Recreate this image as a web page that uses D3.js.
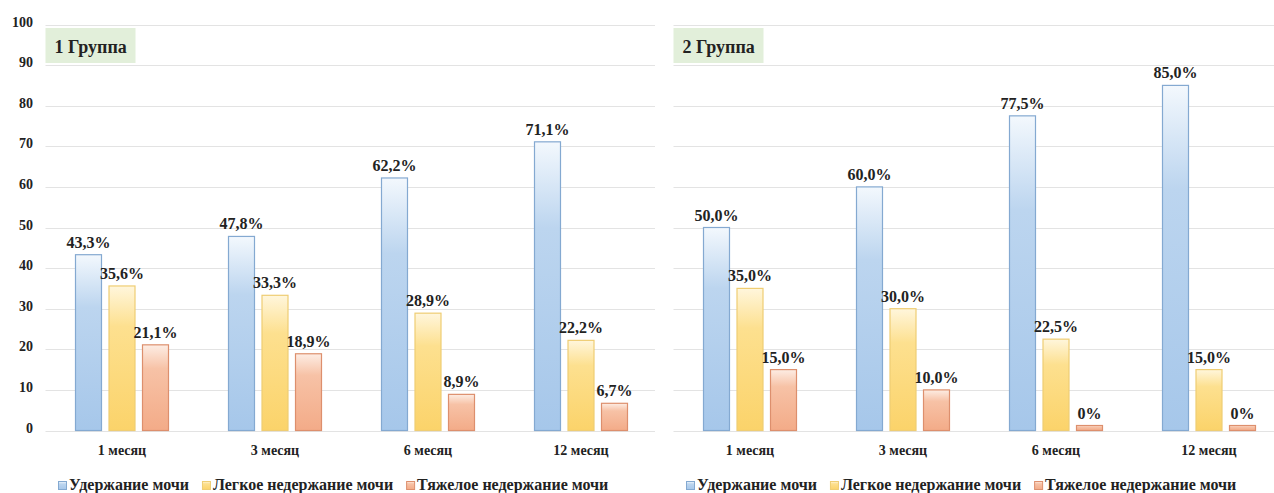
<!DOCTYPE html>
<html>
<head>
<meta charset="utf-8">
<script src="https://cdn.jsdelivr.net/npm/d3@7"></script>
<style>
  html, body { margin: 0; padding: 0; background: #ffffff; }
  svg { display: block; }
  text { font-family: "Liberation Serif", "Times New Roman", serif; font-weight: bold; fill: #222; }
</style>
</head>
<body>
<svg id="chart" width="1274" height="493"></svg>
<script>
// ---- data ----
const categories = ["1 месяц", "3 месяц", "6 месяц", "12 месяц"];
const seriesNames = ["Удержание мочи", "Легкое недержание мочи", "Тяжелое недержание мочи"];
const groupTitles = ["1 Группа", "2 Группа"];
const group1Retention = [43.3, 47.8, 62.2, 71.1];
const group1Mild = [35.6, 33.3, 28.9, 22.2];
const group1Severe = [21.1, 18.9, 8.9, 6.7];
const group2Retention = [50.0, 60.0, 77.5, 85.0];
const group2Mild = [35.0, 30.0, 22.5, 15.0];
const group2Severe = [15.0, 10.0, 0, 0];
const yTickValues = [0, 10, 20, 30, 40, 50, 60, 70, 80, 90, 100];

const groups = [
  { title: groupTitles[0], series: [group1Retention, group1Mild, group1Severe] },
  { title: groupTitles[1], series: [group2Retention, group2Mild, group2Severe] }
];

// ---- styles ----
const gradStops = [
  [["0%", "#f3f8fd"], ["30%", "#bcd5ef"], ["100%", "#a6c7ea"]],
  [["0%", "#fff6dc"], ["28%", "#fde08f"], ["100%", "#fbd36a"]],
  [["0%", "#fdede4"], ["28%", "#f7c2a6"], ["100%", "#f3ab88"]]
];
const strokes = ["#84a9d1", "#efcd73", "#dd8f6d"];

const svg = d3.select("#chart");
const defs = svg.append("defs");
gradStops.forEach((stops, i) => {
  const g = defs.append("linearGradient").attr("id", "grad" + i)
    .attr("x1", 0).attr("y1", 0).attr("x2", 0).attr("y2", 1);
  stops.forEach(s => g.append("stop").attr("offset", s[0]).attr("stop-color", s[1]));
});

const y = d3.scaleLinear().domain([0, 100]).range([430.5, 24.5]);
const panels = [
  { range: [45.5, 657.5], gridEnd: 655, showY: true, legendX: 58 },
  { range: [673.5, 1285.5], gridEnd: 1274, showY: false, legendX: 686 }
];

const fmt = v => v === 0 ? "0%" : d3.format(".1f")(v).replace(".", ",") + "%";

groups.forEach((grp, gi) => {
  const p = panels[gi];
  const g = svg.append("g");
  const x0 = d3.scaleBand().domain(categories).range(p.range).padding(0);
  const bw = x0.bandwidth();
  const x1 = d3.scaleBand().domain(seriesNames).range([26.25, bw - 26.25])
    .paddingInner(0.194).paddingOuter(0.097);

  // gridlines
  g.append("g").selectAll("line").data(yTickValues).join("line")
    .attr("x1", p.range[0]).attr("x2", p.gridEnd)
    .attr("y1", d => Math.round(y(d)) + 0.5).attr("y2", d => Math.round(y(d)) + 0.5)
    .attr("stroke", "#e3e3e3").attr("stroke-width", 1.2);

  // y axis labels
  if (p.showY) {
    g.append("g").selectAll("text").data(yTickValues).join("text")
      .attr("x", 33).attr("y", d => y(d) + 2)
      .attr("text-anchor", "end").style("font-size", "14px")
      .text(d => d);
  }

  // group title box
  const tb = g.append("g");
  tb.append("rect").attr("x", p.range[0]).attr("y", 28).attr("width", 90).attr("height", 35)
    .attr("fill", "#e2efda");
  tb.append("text").attr("x", p.range[0] + 9).attr("y", 53)
    .style("font-size", "18px").text(grp.title);

  // bars
  grp.series.forEach((vals, si) => {
    const sg = g.append("g");
    sg.selectAll("rect").data(vals).join("rect")
      .attr("x", (d, i) => x0(categories[i]) + x1(seriesNames[si]) + 0.5)
      .attr("width", x1.bandwidth() - 1)
      .attr("y", d => Math.min(y(d), y(0) - 5))
      .attr("height", d => Math.max(y(0) - y(d), 5))
      .attr("fill", "url(#grad" + si + ")")
      .attr("stroke", strokes[si]).attr("stroke-width", 1.2);
    sg.selectAll("text").data(vals).join("text")
      .attr("x", (d, i) => x0(categories[i]) + x1(seriesNames[si]) + x1.bandwidth() / 2)
      .attr("y", d => Math.min(y(d), y(0) - 5) - 7)
      .attr("text-anchor", "middle").style("font-size", "16px")
      .text(d => fmt(d));
  });

  // x labels
  g.append("g").selectAll("text").data(categories).join("text")
    .attr("x", d => x0(d) + bw / 2).attr("y", 455)
    .attr("text-anchor", "middle").style("font-size", "14px")
    .text(d => d);

  // legend
  const lg = g.append("g");
  let lx = p.legendX;
  seriesNames.forEach((name, si) => {
    lg.append("rect").attr("x", lx + 0.5).attr("y", 481.5).attr("width", 8).attr("height", 8)
      .attr("fill", "url(#grad" + si + ")").attr("stroke", strokes[si]).attr("stroke-width", 1);
    const t = lg.append("text").attr("x", lx + 11).attr("y", 490)
      .style("font-size", "16px").text(name);
    lx += 11 + t.node().getComputedTextLength() + 13;
  });
});
</script>
</body>
</html>
